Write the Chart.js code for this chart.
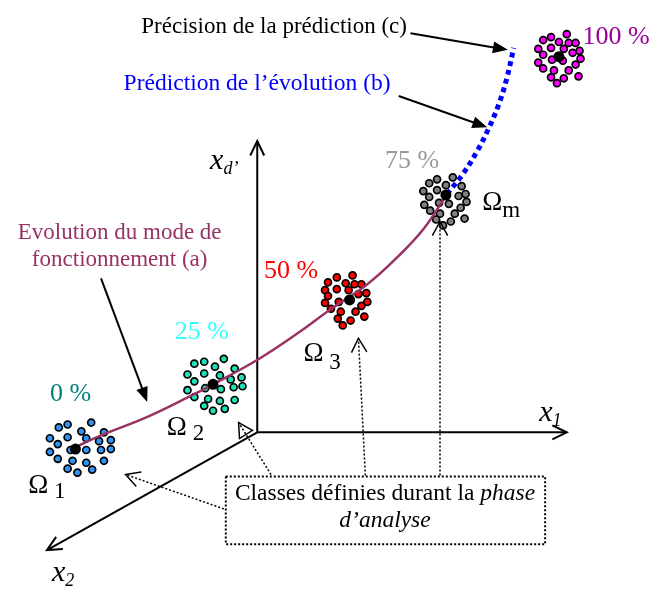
<!DOCTYPE html>
<html>
<head>
<meta charset="utf-8">
<script src="https://cdn.jsdelivr.net/npm/chart.js@4.4.0/dist/chart.umd.min.js"></script>
<style>
  html, body { margin: 0; padding: 0; background: #fff; }
  #wrap { width: 655px; height: 594px; position: relative; }
</style>
</head>
<body>
<div id="wrap"><canvas id="diagram"></canvas></div>
<script>
// Classes found during the analysis phase: [x, y] of each sample
const classOmega1 = [[87,425],[63,427],[54,430],[77,434],[100,435],[45,441],[63,440],[82,441],[95,444],[107,443],[53,447],[45,455],[66,453],[82,453],[97,453],[107,452],[53,462],[68,464],[82,466],[100,464],[63,472],[73,476],[88,473]];
const classOmega2 = [[222,360],[202,363],[192,365],[213,368],[233,370],[185,376],[202,375],[218,377],[229,381],[240,379],[192,383],[185,392],[203,390],[219,391],[232,389],[241,388],[192,399],[206,401],[218,403],[233,402],[202,408],[211,413],[223,411]];
const classOmega3 = [[353,275],[337,277],[328,282],[346,283],[355,284],[362,284],[325,290],[337,289],[349,290],[359,294],[367,293],[328,296],[368,302],[325,303],[339,302],[362,306],[331,309],[341,312],[356,312],[365,317],[338,319],[351,321],[343,326]];
const classOmegaM = [[455,175],[439,177],[431,181],[448,183],[464,184],[425,189],[439,188],[468,192],[431,195],[461,194],[469,200],[426,203],[441,201],[451,202],[463,206],[432,209],[442,212],[457,212],[467,217],[438,218],[453,220],[445,224]];
const classFailure = [[571,29],[555,32],[547,35],[563,37],[573,38],[580,38],[542,44],[555,43],[568,44],[577,48],[584,46],[547,50],[585,54],[542,58],[556,55],[567,56],[580,60],[547,64],[558,66],[573,66],[583,72],[555,73],[568,74],[561,79]];
const classCentres = [[71,452],[211,386],[350,300],[448,193],[563,52]];

// Evolution of the operating mode (a) and its prediction (b)
const evolutionPath = [[73,449],[97,438],[140,421],[180,402],[211,386],[258,360],[300,332],[330,310],[368,284],[400,255],[425,228],[448,194]];
const predictionPath = [[449,192],[465,172],[480,148],[492,124],[502,100],[510,74],[517,43]];

// Degradation level of each class
const progressLabels = ["0 %", "25 %", "50 %", "75 %", "100 %"];

const SERIF = "'Liberation Serif', 'Times New Roman', serif";
const classColors = ["#2f95f5", "#1fe0b5", "#ff0000", "#808080", "#ff00ff"];
const labelColors = ["#008080", "#33ffff", "#ff0000", "#999999", "#990099"];

const toPoints = (arr) => arr.map((p) => ({ x: p[0], y: p[1] }));

/**
 * Draw a line with an arrow head at (x2, y2)
 */
function drawArrow(ctx, x1, y1, x2, y2, opts) {
  const ang = Math.atan2(y2 - y1, x2 - x1);
  const len = opts.head || 14;
  const half = opts.spread || 0.4;
  ctx.save();
  ctx.strokeStyle = "#000";
  ctx.fillStyle = "#000";
  ctx.lineWidth = opts.width || 2;
  ctx.setLineDash(opts.dash || []);
  ctx.beginPath();
  ctx.moveTo(x1, y1);
  const stop = opts.style === "filled" ? len * 0.8 : 0;
  ctx.lineTo(x2 - stop * Math.cos(ang), y2 - stop * Math.sin(ang));
  ctx.stroke();
  ctx.setLineDash([]);
  const ax = x2 - len * Math.cos(ang - half);
  const ay = y2 - len * Math.sin(ang - half);
  const bx = x2 - len * Math.cos(ang + half);
  const by = y2 - len * Math.sin(ang + half);
  ctx.lineWidth = opts.headWidth || 1.5;
  ctx.beginPath();
  ctx.moveTo(ax, ay);
  ctx.lineTo(x2, y2);
  ctx.lineTo(bx, by);
  if (opts.style === "filled") {
    ctx.closePath();
    ctx.fill();
  } else if (opts.style === "triangle") {
    ctx.closePath();
    ctx.stroke();
  } else {
    ctx.stroke();
  }
  ctx.restore();
}

/**
 * Draw text made of several runs (different fonts / offsets)
 */
function drawRuns(ctx, runs, x, y, align) {
  let total = 0;
  runs.forEach((r) => {
    ctx.font = r.font;
    r.w = ctx.measureText(r.text).width;
    total += r.w;
  });
  let cx = align === "center" ? x - total / 2 : x;
  ctx.textAlign = "left";
  ctx.textBaseline = "alphabetic";
  runs.forEach((r) => {
    ctx.font = r.font;
    ctx.fillStyle = r.color || "#000";
    ctx.fillText(r.text, cx, y + (r.dy || 0));
    cx += r.w;
  });
}

const diagramPlugin = {
  id: "diagramPlugin",
  beforeDatasetsDraw(chart) {
    const ctx = chart.ctx;
    const X = (v) => chart.scales.x.getPixelForValue(v);
    const Y = (v) => chart.scales.y.getPixelForValue(v);
    // Axes of the feature space
    const o = [X(256), Y(435)];
    const axOpts = { style: "open", width: 2, headWidth: 2, head: 16, spread: 0.45 };
    drawArrow(ctx, o[0], o[1], X(256), Y(138), axOpts);
    drawArrow(ctx, o[0], o[1], X(571), Y(435), axOpts);
    drawArrow(ctx, o[0], o[1], X(42), Y(555), axOpts);
  },
  afterDatasetsDraw(chart) {
    const ctx = chart.ctx;
    const X = (v) => chart.scales.x.getPixelForValue(v);
    const Y = (v) => chart.scales.y.getPixelForValue(v);
    ctx.save();

    // Annotation arrows
    const solid = { style: "filled", width: 2, head: 16, spread: 0.38 };
    drawArrow(ctx, X(412), Y(28), X(511), Y(45), solid);
    drawArrow(ctx, X(400), Y(92), X(490), Y(124), solid);
    drawArrow(ctx, X(97), Y(278), X(144), Y(404), solid);

    // Dotted arrows from the classes box
    const dotted = { style: "open", width: 1.5, headWidth: 1.5, dash: [2, 2], head: 16, spread: 0.5 };
    drawArrow(ctx, X(222), Y(513), X(122), Y(478), dotted);
    drawArrow(ctx, X(270), Y(478), X(237), Y(425), { ...dotted, style: "triangle" });
    drawArrow(ctx, X(366), Y(479), X(359), Y(339), dotted);
    drawArrow(ctx, X(442), Y(479), X(442), Y(220), dotted);

    // Classes box
    ctx.save();
    ctx.strokeStyle = "#000";
    ctx.lineWidth = 2;
    ctx.setLineDash([2, 2]);
    ctx.strokeRect(X(224), Y(480), X(549) - X(224), Y(549) - Y(480));
    ctx.restore();

    const f = (size, italic) => (italic ? "italic " : "") + size + "px " + SERIF;

    drawRuns(ctx, [
      { text: "Classes définies durant la ", font: f(23.5) },
      { text: "phase", font: f(23.5, true) },
    ], X(386), Y(504), "center");
    drawRuns(ctx, [{ text: "d\u2019analyse", font: f(23.5, true) }], X(386), Y(531), "center");

    // Titles
    drawRuns(ctx, [{ text: "Précision de la prédiction (c)", font: f(23) }], X(138), Y(28), "left");
    drawRuns(ctx, [{ text: "Prédiction de l\u2019évolution (b)", font: f(23.5), color: "#0000ff" }], X(120), Y(86), "left");
    drawRuns(ctx, [{ text: "Evolution du mode de", font: f(23), color: "#993366" }], X(116), Y(238), "center");
    drawRuns(ctx, [{ text: "fonctionnement (a)", font: f(23), color: "#993366" }], X(116), Y(265), "center");

    // Degradation percentages
    const pctPos = [[45, 403], [172, 340], [263, 278], [386, 165], [587, 39]];
    progressLabels.forEach((t, i) => {
      drawRuns(ctx, [{ text: t, font: f(26), color: labelColors[i] }], X(pctPos[i][0]), Y(pctPos[i][1]), "left");
    });

    // Class names
    const omega = [
      { x: 23, y: 497, sub: " 1", sdy: 5 },
      { x: 164, y: 438, sub: " 2", sdy: 5 },
      { x: 303, y: 362, sub: " 3", sdy: 8 },
      { x: 485, y: 208, sub: "m", sdy: 7 },
    ];
    omega.forEach((o) => {
      drawRuns(ctx, [
        { text: "\u03a9", font: f(27) },
        { text: o.sub, font: f(23), dy: o.sdy },
      ], X(o.x), Y(o.y), "left");
    });

    // Axis names
    drawRuns(ctx, [
      { text: "x", font: f(30, true) },
      { text: "d\u2019", font: f(18, true), dy: 5 },
    ], X(208), Y(167), "left");
    drawRuns(ctx, [
      { text: "x", font: f(30, true) },
      { text: "1", font: f(18, true), dy: 5 },
    ], X(543), Y(423), "left");
    drawRuns(ctx, [
      { text: "x", font: f(30, true) },
      { text: "2", font: f(18, true), dy: 5 },
    ], X(47), Y(587), "left");

    ctx.restore();
  },
};

const classSets = [classOmega1, classOmega2, classOmega3, classOmegaM, classFailure].map((data, i) => ({
  type: "scatter",
  data: toPoints(data),
  backgroundColor: classColors[i],
  borderColor: "#000",
  borderWidth: 1.7,
  pointRadius: 3.5,
  order: 3,
}));

const ctx = document.getElementById("diagram");
new Chart(ctx, {
  type: "scatter",
  data: {
    datasets: [
      {
        data: toPoints(classCentres),
        backgroundColor: "#000",
        borderColor: "#000",
        pointRadius: 5.5,
        borderWidth: 0,
        order: 0,
      },
      {
        type: "line",
        data: toPoints(evolutionPath),
        borderColor: "#993366",
        borderWidth: 2.5,
        pointRadius: 0,
        tension: 0.4,
        fill: false,
        order: 1,
      },
      {
        type: "line",
        data: toPoints(predictionPath),
        borderColor: "#0000ff",
        borderWidth: 5,
        borderDash: [5, 4],
        borderCapStyle: "butt",
        pointRadius: 0,
        tension: 0.4,
        fill: false,
        order: 1,
      },
      ...classSets,
    ],
  },
  options: {
    responsive: true,
    maintainAspectRatio: false,
    animation: false,
    layout: { padding: 0 },
    plugins: {
      legend: { display: false },
      tooltip: { enabled: false },
    },
    scales: {
      x: { type: "linear", min: 0, max: 655, display: false },
      y: { type: "linear", min: 0, max: 594, reverse: true, display: false },
    },
  },
  plugins: [diagramPlugin],
});
</script>
</body>
</html>
